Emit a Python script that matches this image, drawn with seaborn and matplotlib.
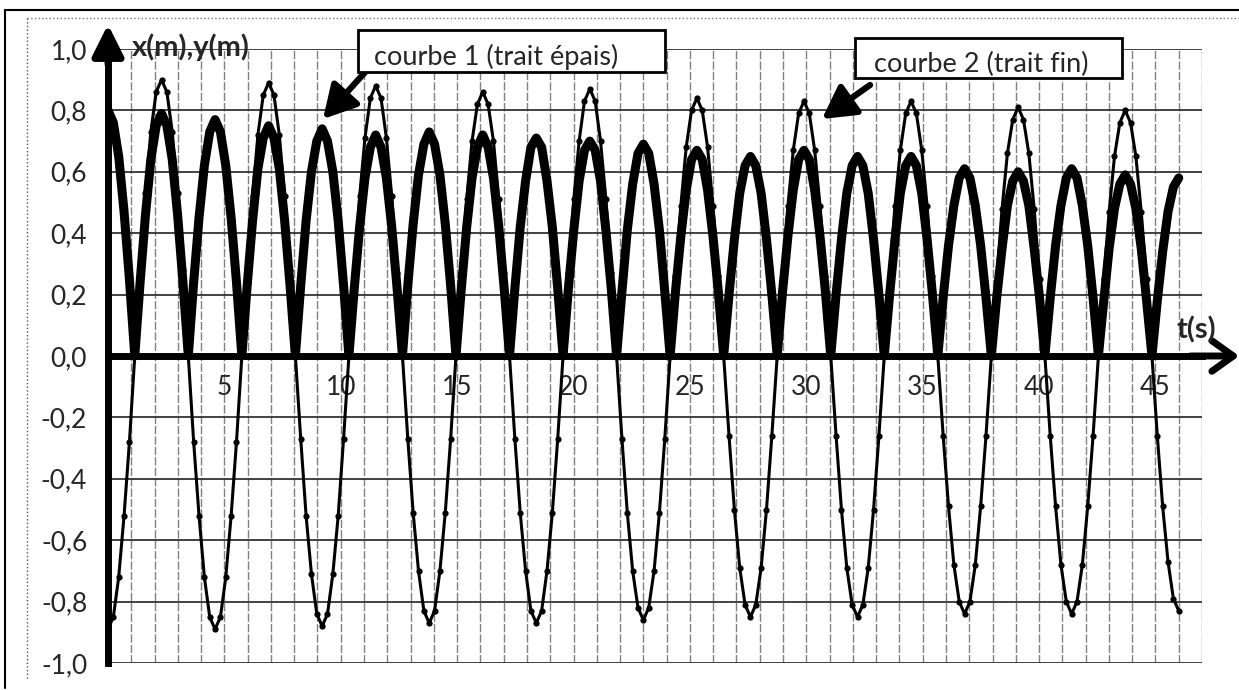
import numpy as np
import pandas as pd
import matplotlib
matplotlib.use('Agg')
import matplotlib.pyplot as plt
import seaborn as sns
from matplotlib.patches import Rectangle
from matplotlib.lines import Line2D

# sampling step of the recorded curves (s)
t_step = 0.23

# courbe 1 (trait épais), one row = one period of courbe 2
courbe_1 = [
    0.80, 0.76, 0.65, 0.47, 0.25, 0.00, 0.24, 0.46, 0.64, 0.75, 0.79, 0.75, 0.64, 0.46, 0.24, 0.00, 0.24, 0.45, 0.62, 0.73,
    0.77, 0.73, 0.62, 0.45, 0.24, 0.00, 0.23, 0.44, 0.61, 0.71, 0.75, 0.71, 0.61, 0.44, 0.23, 0.00, 0.23, 0.44, 0.60, 0.70,
    0.74, 0.70, 0.60, 0.44, 0.23, 0.00, 0.22, 0.42, 0.58, 0.68, 0.72, 0.68, 0.58, 0.42, 0.22, 0.00, 0.23, 0.43, 0.59, 0.69,
    0.73, 0.69, 0.59, 0.43, 0.23, 0.00, 0.22, 0.42, 0.58, 0.68, 0.72, 0.68, 0.58, 0.42, 0.22, 0.00, 0.22, 0.42, 0.57, 0.68,
    0.71, 0.68, 0.57, 0.42, 0.22, 0.00, 0.22, 0.41, 0.57, 0.67, 0.70, 0.67, 0.57, 0.41, 0.22, 0.00, 0.21, 0.41, 0.56, 0.66,
    0.69, 0.66, 0.56, 0.41, 0.21, 0.00, 0.21, 0.39, 0.54, 0.64, 0.67, 0.64, 0.54, 0.39, 0.21, 0.00, 0.20, 0.38, 0.53, 0.62,
    0.65, 0.62, 0.53, 0.38, 0.20, 0.00, 0.21, 0.39, 0.54, 0.64, 0.67, 0.64, 0.54, 0.39, 0.21, 0.00, 0.20, 0.38, 0.53, 0.62,
    0.65, 0.62, 0.53, 0.38, 0.20, 0.00, 0.20, 0.38, 0.53, 0.62, 0.65, 0.62, 0.53, 0.38, 0.20, 0.00, 0.19, 0.36, 0.49, 0.58,
    0.61, 0.58, 0.49, 0.36, 0.19, 0.00, 0.19, 0.35, 0.49, 0.57, 0.60, 0.57, 0.49, 0.35, 0.19, 0.00, 0.19, 0.36, 0.49, 0.58,
    0.61, 0.58, 0.49, 0.36, 0.19, 0.00, 0.18, 0.35, 0.48, 0.56, 0.59, 0.56, 0.48, 0.35, 0.18, 0.00, 0.18, 0.34, 0.47, 0.55,
    0.58,
]

# courbe 2 (trait fin)
courbe_2 = [
    -0.89, -0.85, -0.72, -0.52, -0.28, 0.00, 0.28, 0.53, 0.73, 0.86, 0.90, 0.86, 0.73, 0.53, 0.28, 0.00, -0.28, -0.52, -0.72, -0.85,
    -0.89, -0.85, -0.72, -0.52, -0.28, 0.00, 0.28, 0.52, 0.72, 0.85, 0.89, 0.85, 0.72, 0.52, 0.28, 0.00, -0.27, -0.52, -0.71, -0.84,
    -0.88, -0.84, -0.71, -0.52, -0.27, 0.00, 0.27, 0.52, 0.71, 0.84, 0.88, 0.84, 0.71, 0.52, 0.27, 0.00, -0.27, -0.51, -0.70, -0.83,
    -0.87, -0.83, -0.70, -0.51, -0.27, 0.00, 0.27, 0.51, 0.70, 0.82, 0.86, 0.82, 0.70, 0.51, 0.27, 0.00, -0.27, -0.51, -0.70, -0.83,
    -0.87, -0.83, -0.70, -0.51, -0.27, 0.00, 0.27, 0.51, 0.70, 0.83, 0.87, 0.83, 0.70, 0.51, 0.27, 0.00, -0.27, -0.51, -0.70, -0.82,
    -0.86, -0.82, -0.70, -0.51, -0.27, 0.00, 0.26, 0.49, 0.68, 0.80, 0.84, 0.80, 0.68, 0.49, 0.26, 0.00, -0.26, -0.50, -0.69, -0.81,
    -0.85, -0.81, -0.69, -0.50, -0.26, 0.00, 0.26, 0.49, 0.67, 0.79, 0.83, 0.79, 0.67, 0.49, 0.26, 0.00, -0.26, -0.50, -0.69, -0.81,
    -0.85, -0.81, -0.69, -0.50, -0.26, 0.00, 0.26, 0.49, 0.67, 0.79, 0.83, 0.79, 0.67, 0.49, 0.26, 0.00, -0.26, -0.49, -0.68, -0.80,
    -0.84, -0.80, -0.68, -0.49, -0.26, 0.00, 0.25, 0.48, 0.66, 0.77, 0.81, 0.77, 0.66, 0.48, 0.25, 0.00, -0.26, -0.49, -0.68, -0.80,
    -0.84, -0.80, -0.68, -0.49, -0.26, 0.00, 0.25, 0.47, 0.65, 0.76, 0.80, 0.76, 0.65, 0.47, 0.25, 0.00, -0.26, -0.49, -0.67, -0.79,
    -0.83,
]

x_ticks = [5, 10, 15, 20, 25, 30, 35, 40, 45]
y_ticks = [-1.0, -0.8, -0.6, -0.4, -0.2, 0.0, 0.2, 0.4, 0.6, 0.8, 1.0]
y_labels = ['-1,0', '-0,8', '-0,6', '-0,4', '-0,2', '0,0', '0,2', '0,4', '0,6', '0,8', '1,0']

t = np.round(np.arange(len(courbe_1)) * t_step, 2)
df = pd.DataFrame({'t': t, 'courbe 1': courbe_1, 'courbe 2': courbe_2})

sns.set_style('white')
plt.rcParams['font.family'] = ['Lato', 'DejaVu Sans']

W, H = 1239, 690
fig = plt.figure(figsize=(W / 100, H / 100), dpi=100)
ax = fig.add_axes([108 / W, 1 - 663 / H, (1202 - 108) / W, (663 - 49) / H])

def fx(px):
    return px / W

def fy(py):
    return 1 - py / H

# grid first
ax.set_xlim(0, 47)
ax.set_ylim(-1, 1)
ax.set_xticks(x_ticks)
ax.set_xticklabels([str(v) for v in x_ticks])
ax.set_xticks(range(0, 48), minor=True)
ax.set_yticks(y_ticks)
ax.set_yticklabels(y_labels)
ax.grid(axis='y', which='major', color='#333333', lw=1.3)
ax.grid(axis='x', which='both', color='#808080', lw=1.0, ls=(0, (6, 1.5)))
ax.set_axisbelow(True)

# the two curves
sns.lineplot(data=df, x='t', y='courbe 2', ax=ax, color='black', lw=2.2,
             marker='o', markersize=4.5, markeredgewidth=0)
sns.lineplot(data=df, x='t', y='courbe 1', ax=ax, color='black', lw=6.5)
ax.set_xlabel('')
ax.set_ylabel('')

# axes like the Excel sheet: thick black axes crossing at 0
for s in ['top', 'right']:
    ax.spines[s].set_visible(False)
ax.spines['bottom'].set_position(('data', 0))
ax.spines['bottom'].set_linewidth(5)
ax.spines['left'].set_linewidth(5)
ax.spines['bottom'].set_color('black')
ax.spines['left'].set_color('black')
ax.tick_params(axis='y', which='major', length=5, width=4, direction='out',
               pad=10, labelsize=19, color='black')
ax.tick_params(axis='x', which='major', length=5, width=3, direction='out',
               pad=9, labelsize=19, color='black')
ax.tick_params(which='minor', length=0)

ax.annotate('', xy=(0, 1.08), xytext=(0, 0.95), annotation_clip=False,
            arrowprops=dict(arrowstyle='-|>,head_length=0.9,head_width=0.45', color='black',
                            lw=5, mutation_scale=21, shrinkA=0, shrinkB=0))
ax.annotate('', xy=(48.6, 0), xytext=(46.5, 0), annotation_clip=False,
            arrowprops=dict(arrowstyle='->,head_length=0.7,head_width=0.5', color='black',
                            lw=5, mutation_scale=22, shrinkA=0, shrinkB=0))

fig.text(fx(132), fy(47), 'x(m),y(m)', fontsize=21, fontweight='bold', ha='left', va='center')
fig.text(fx(1196), fy(330), 't(s)', fontsize=21, fontweight='bold', ha='center', va='center')

# annotation boxes
fig.add_artist(Rectangle((fx(358), fy(72)), (665 - 358) / W, (72 - 30) / H, transform=fig.transFigure,
                         fc='white', ec='black', lw=2, zorder=5))
fig.text(fx(374), fy(57), 'courbe 1 (trait épais)', fontsize=19.5, ha='left', va='center', zorder=6)
fig.add_artist(Rectangle((fx(855), fy(78)), (1122 - 855) / W, (78 - 38) / H, transform=fig.transFigure,
                         fc='white', ec='black', lw=2, zorder=5))
fig.text(fx(874), fy(64), 'courbe 2 (trait fin)', fontsize=19.5, ha='left', va='center', zorder=6)

for (x0, y0), (x1, y1) in [((367, 70), (323, 119)), ((870, 85), (822, 119))]:
    ax.annotate('', xy=(fx(x1), fy(y1)), xytext=(fx(x0), fy(y0)), xycoords='figure fraction',
                textcoords='figure fraction', annotation_clip=False,
                arrowprops=dict(arrowstyle='-|>,head_length=0.9,head_width=0.5', color='black',
                                lw=4.5, mutation_scale=22, shrinkA=0, shrinkB=0))

# frame of the scanned sheet
fig.add_artist(Line2D([fx(5), 1], [fy(10), fy(10)], color='black', lw=1.5, transform=fig.transFigure))
fig.add_artist(Line2D([fx(5), fx(5)], [fy(10), fy(688)], color='black', lw=1.5, transform=fig.transFigure))
fig.add_artist(Line2D([fx(27), fx(27)], [fy(18), fy(680)], color='#555555', lw=1, ls=':',
                      transform=fig.transFigure))
fig.add_artist(Line2D([fx(27), 1], [fy(18), fy(18)], color='#777777', lw=1, ls=':',
                      transform=fig.transFigure))

fig.savefig('out.png', dpi=100)
